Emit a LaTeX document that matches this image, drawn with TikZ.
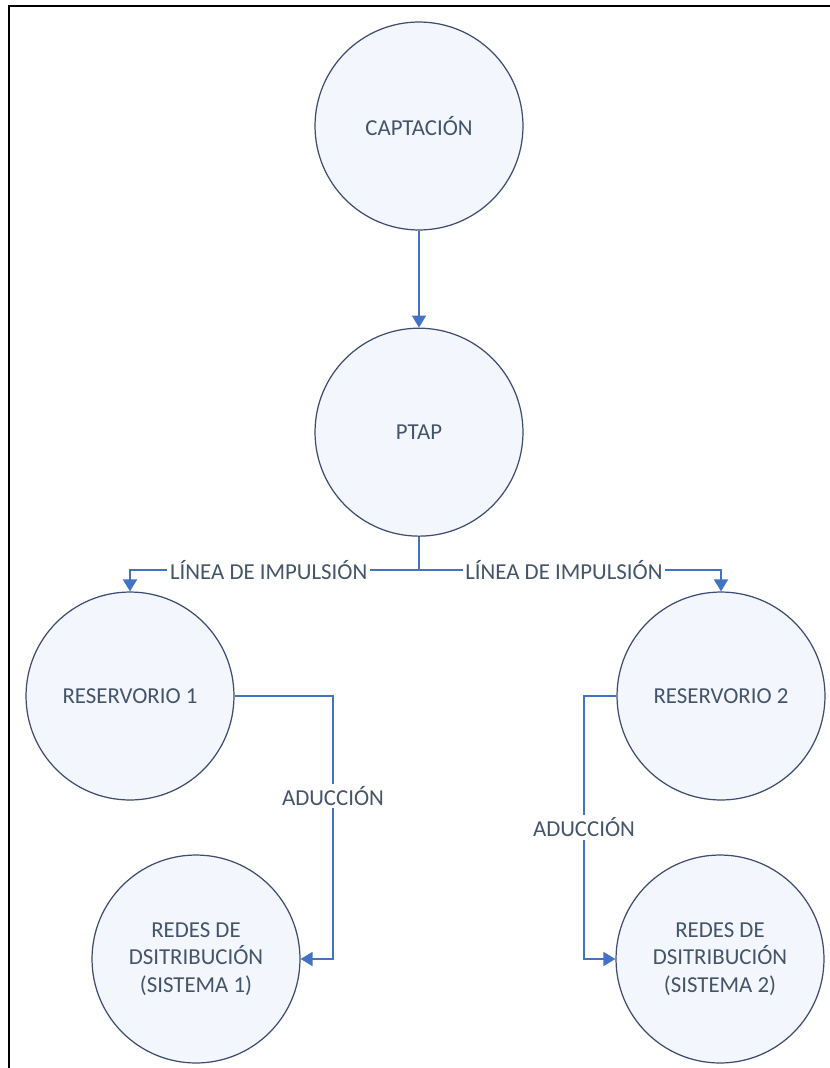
\documentclass[tikz,border=0pt]{standalone}
\usepackage{fontspec}
\setmainfont{Carlito}
\usetikzlibrary{arrows.meta,positioning,calc}
\definecolor{ringc}{HTML}{3E4C72}
\definecolor{fillc}{HTML}{F3F6FC}
\definecolor{txtc}{HTML}{44546A}
\definecolor{pipec}{HTML}{4472C4}
\tikzset{
  stage/.style = {draw=ringc, line width=0.7pt, circle, fill=fillc,
                  minimum size=4.16cm, inner sep=0pt, align=center, text=txtc},
  pipe/.style  = {draw=pipec, line width=1.1pt},
  sig/.style   = {pipe, -{Triangle[length=2.4mm, width=2.8mm]}},
  lbl/.style   = {fill=white, text=txtc, inner sep=1.5pt},
  frame/.style = {draw=black, line width=1.6pt},
}
\begin{document}
\begin{tikzpicture}[x=0.02cm, y=-0.02cm, font=\fontsize{13}{15.5}\selectfont]
\useasboundingbox (0,0) rectangle (829,1068);
\draw[frame] (9,1090) |- (850,6);
\node[stage] (cap) at (419,126) {CAPTACIÓN};
\node[stage, below=1.94cm of cap] (ptap) {PTAP};
\node[stage] (res1) at (130,696) {RESERVORIO 1};
\node[stage] (res2) at (721,696) {RESERVORIO 2};
\node[stage] (red1) at (196,959) {REDES DE\\ DSITRIBUCIÓN\\ (SISTEMA 1)};
\node[stage] (red2) at (720,959) {REDES DE\\ DSITRIBUCIÓN\\ (SISTEMA 2)};
\coordinate (jn) at (ptap.south |- 0,570);
\coordinate (k1) at (333,696);
\coordinate (k2) at (584,696);
\draw[sig] (cap) -- (ptap);
\draw[pipe] (ptap) -- (jn);
\draw[sig] (jn) -| node[lbl, pos=0.26] {LÍNEA DE IMPULSIÓN} (res1);
\draw[sig] (jn) -| node[lbl, pos=0.24] {LÍNEA DE IMPULSIÓN} (res2);
\draw[sig] (res1) -- (k1) -- node[lbl, pos=0.38] {ADUCCIÓN} (k1 |- red1) -- (red1);
\draw[sig] (res2) -- (k2) -- node[lbl, pos=0.5] {ADUCCIÓN} (k2 |- red2) -- (red2);
\end{tikzpicture}
\end{document}
